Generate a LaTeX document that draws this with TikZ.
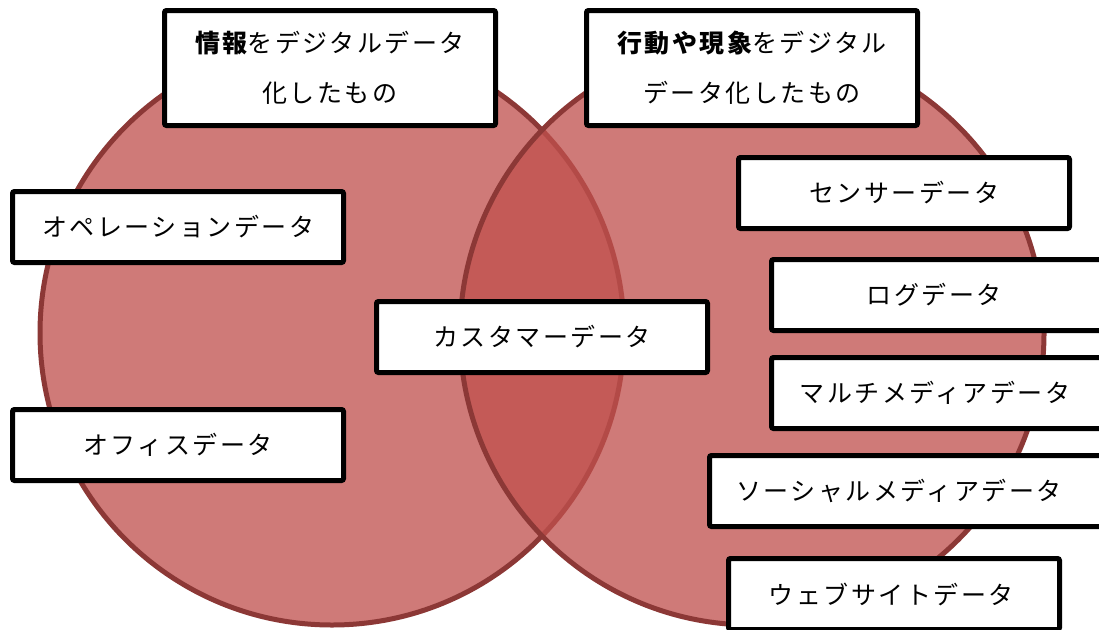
\documentclass[tikz,border=0pt]{standalone}
\usepackage{fontspec}
\newfontfamily\jpfont{Noto Sans CJK JP}[LetterSpace=10]
\definecolor{circfill}{HTML}{C0504D}
\definecolor{circline}{HTML}{8C3836}
\tikzset{
  venn/.style={fill=circfill, fill opacity=0.76, draw=circline, line width=5pt},
  databox/.style={draw=black, fill=white, line width=5pt, rounded corners=2pt,
    minimum width=331pt, minimum height=71pt, inner sep=0pt, text=black,
    font=\jpfont\fontsize{25}{30}\selectfont},
  titlebox/.style={databox, minimum height=115pt, align=center,
    font=\jpfont\fontsize{25}{50}\selectfont}
}
\begin{document}
\begin{tikzpicture}[x=1pt,y=-1pt]
\useasboundingbox (0,0) rectangle (1099,629);
\clip (0,0) rectangle (1099,629);
\path[venn] (332,333) circle[radius=292pt] coordinate (lc);
\path[venn] (752,333) circle[radius=292pt] coordinate (rc);
\node[titlebox] (info) at (330,68) {{\bfseries 情報}をデジタルデータ\\化したもの};
\node[titlebox] (behav) at (752,68) {{\bfseries 行動や現象}をデジタル\\データ化したもの};
\node[databox] (oper) at (178,227) {オペレーションデータ};
\node[databox] (office) at (178,445) {オフィスデータ};
\node[databox] (cust) at (542,337) {カスタマーデータ};
\node[databox] (sensor) at (904,193) {センサーデータ};
\node[databox] (log) at (937,295) {\hspace*{-6pt}ログデータ};
\node[databox] (multi) at (937,393) {\hspace*{-4pt}マルチメディアデータ};
\node[databox, minimum width=393pt] (social) at (906,491) {\hspace*{-14pt}ソーシャルメディアデータ};
\node[databox] (web) at (894,594) {\hspace*{-6pt}ウェブサイトデータ};
\end{tikzpicture}
\end{document}
